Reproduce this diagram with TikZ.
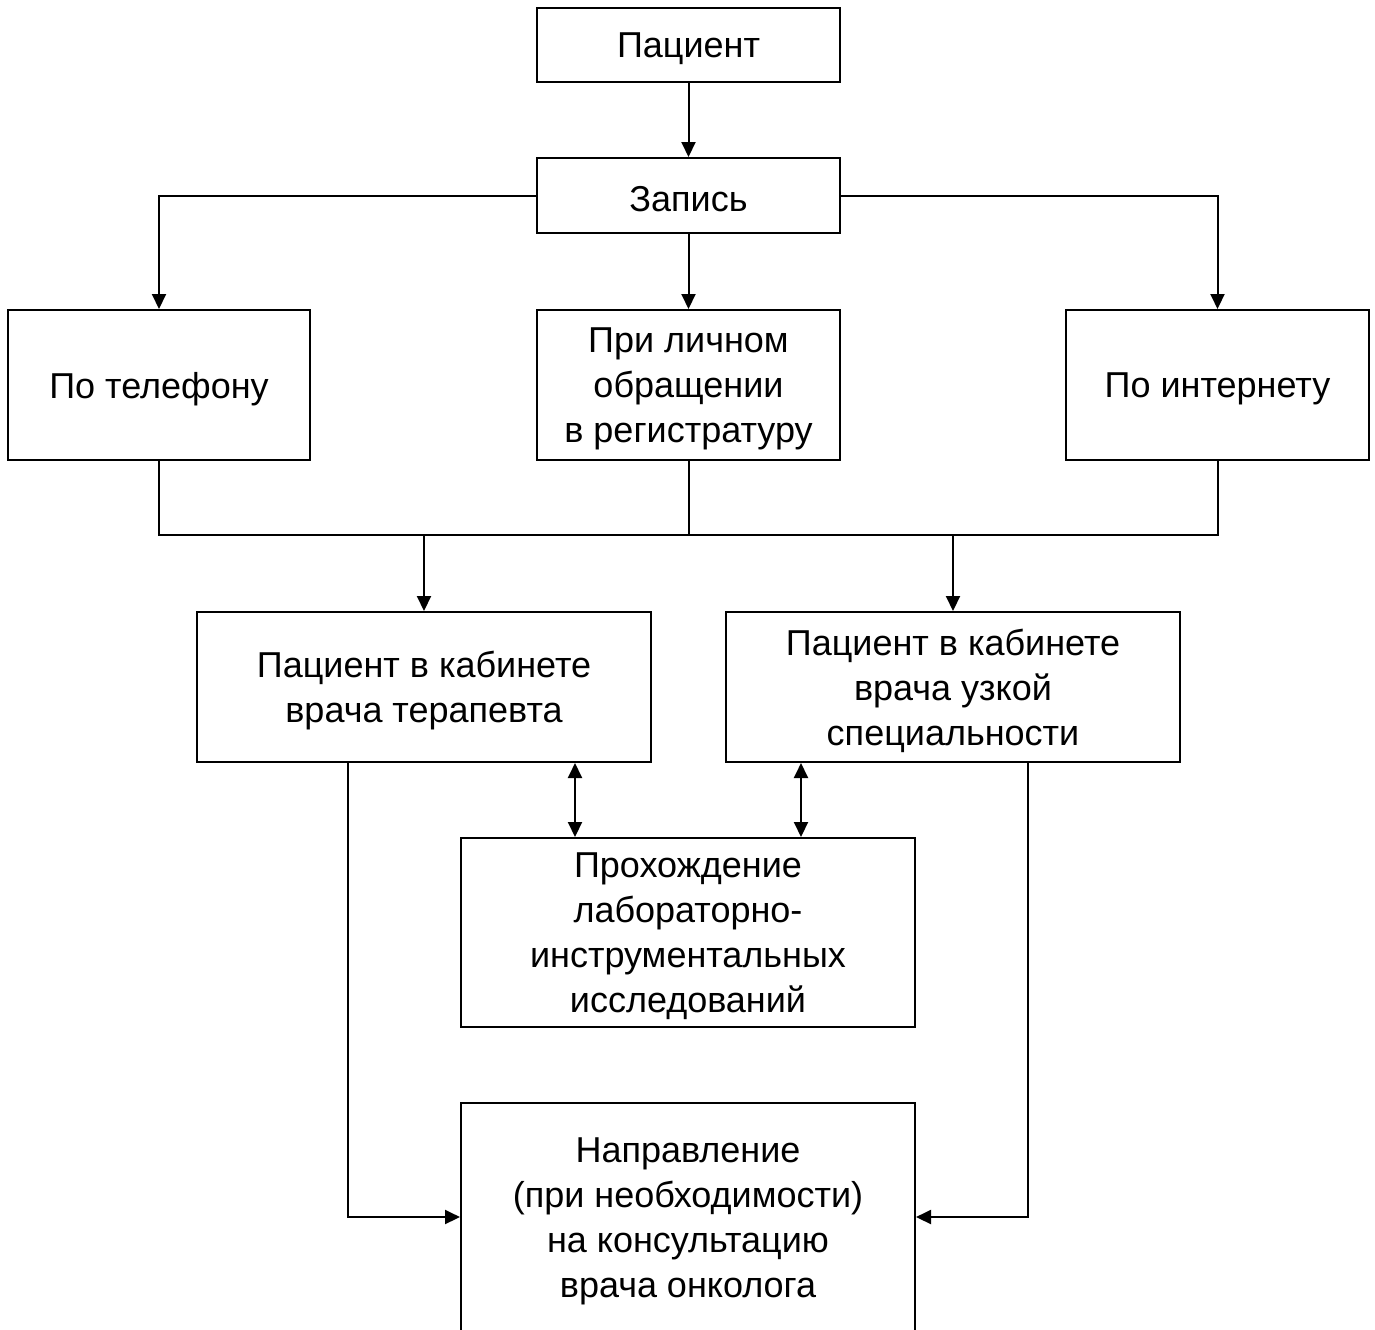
\documentclass[tikz,border=0pt]{standalone}
\usepackage{fontspec}
\setmainfont{Liberation Sans}
\usetikzlibrary{arrows.meta}
\begin{document}
\begin{tikzpicture}[x=0.5pt,y=-0.5pt,
  box/.style={draw,line width=1pt,fill=white,inner sep=0pt},
  txt/.style={inner sep=0pt,align=center,font=\fontsize{18}{22.5}\selectfont},
  conn/.style={line width=1pt},
  arr/.style={conn,-{Triangle[length=7.5pt,width=7pt]}},
  darr/.style={conn,{Triangle[length=7.5pt,width=7pt]}-{Triangle[length=7.5pt,width=7pt]}}]
\useasboundingbox[fill=white] (0,0) rectangle (1375,1329);
\node[box,minimum width=151.5pt,minimum height=37pt] (pac) at (688.5,45) {};
\node[box,minimum width=151.5pt,minimum height=37.5pt] (zap) at (688.5,195.5) {};
\node[box,minimum width=151pt,minimum height=75pt] (tel) at (159,385) {};
\node[box,minimum width=151.5pt,minimum height=75pt] (lich) at (688.5,385) {};
\node[box,minimum width=151.5pt,minimum height=75pt] (inet) at (1217.5,385) {};
\node[box,minimum width=227pt,minimum height=75pt] (ter) at (424,687) {};
\node[box,minimum width=227pt,minimum height=75pt] (uzk) at (953,687) {};
\node[box,minimum width=227pt,minimum height=94.5pt] (proh) at (688,932.5) {};
\node[box,minimum width=227pt,minimum height=114pt] (napr) at (688,1217) {};
\node[txt] (pact) at ([yshift=-2pt]pac.center) {Пациент};
\node[txt] (zapt) at ([yshift=-2pt]zap.center) {Запись};
\node[txt] (telt) at ([yshift=-2pt]tel.center) {По телефону};
\node[txt] (licht) at ([yshift=-2pt]lich.center) {При личном\\обращении\\в регистратуру};
\node[txt] (inett) at ([yshift=-2pt]inet.center) {По интернету};
\node[txt] (tert) at ([yshift=-2pt]ter.center) {Пациент в кабинете\\врача терапевта};
\node[txt] (uzkt) at ([yshift=-2pt]uzk.center) {Пациент в кабинете\\врача узкой\\специальности};
\node[txt] (proht) at ([yshift=-2pt]proh.center) {Прохождение\\лабораторно-\\инструментальных\\исследований};
\node[txt] (naprt) at ([yshift=-2pt]napr.center) {Направление\\(при необходимости)\\на консультацию\\врача онколога};
\coordinate (bus) at (688.5,535);
\draw[arr] (pac) -- (zap);
\draw[arr] (zap.west) -| (tel.north);
\draw[arr] (zap.east) -| (inet.north);
\draw[arr] (zap) -- (lich);
\draw[conn] (tel.south) |- (bus) -| (inet.south);
\draw[conn] (lich.south) -- (bus);
\draw[arr] (ter.north |- bus) -- (ter.north);
\draw[arr] (uzk.north |- bus) -- (uzk.north);
\coordinate (d1) at (575,0);
\coordinate (d2) at (801,0);
\draw[darr] (d1 |- ter.south) -- (d1 |- proh.north);
\draw[darr] (d2 |- uzk.south) -- (d2 |- proh.north);
\coordinate (l1) at (348,0);
\coordinate (r1) at (1028,0);
\draw[arr] (l1 |- ter.south) |- (napr.west);
\draw[arr] (r1 |- uzk.south) |- (napr.east);
\end{tikzpicture}
\end{document}
